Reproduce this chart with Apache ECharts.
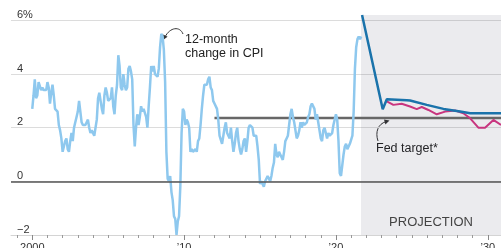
<!DOCTYPE html>
<html>
<head>
<meta charset="utf-8">
<script src="https://cdn.jsdelivr.net/npm/echarts@6.0.0/dist/echarts.min.js"></script>
<style>
  html, body { margin: 0; padding: 0; background: #fff; }
  #chart { width: 501px; height: 248px; }
</style>
</head>
<body>
<div id="chart"></div>
<script>
// 12-month change in CPI, monthly, Jan 2000 - Sep 2021
var cpiStart = 2000;
var cpi = [
  2.7, 3.2, 3.8, 3.1, 3.2, 3.7, 3.7, 3.4, 3.5, 3.4, 3.4, 3.4,
  3.7, 3.5, 2.9, 3.3, 3.6, 3.2, 2.7, 2.7, 2.6, 2.1, 1.9, 1.6,
  1.1, 1.1, 1.5, 1.6, 1.2, 1.1, 1.5, 1.8, 1.5, 2.0, 2.2, 2.4,
  2.6, 3.0, 3.0, 2.2, 2.1, 2.1, 2.1, 2.2, 2.3, 2.0, 1.8, 1.9,
  1.9, 1.7, 1.7, 2.3, 3.1, 3.3, 3.0, 2.7, 2.5, 3.2, 3.5, 3.3,
  3.0, 3.0, 3.1, 3.5, 2.8, 2.5, 3.2, 3.6, 4.7, 4.3, 3.5, 3.4,
  4.0, 3.6, 3.4, 3.5, 4.2, 4.3, 4.1, 3.8, 2.1, 1.3, 2.0, 2.5,
  2.1, 2.4, 2.8, 2.6, 2.7, 2.7, 2.4, 2.0, 2.8, 3.5, 4.3, 4.1,
  4.3, 4.0, 4.0, 3.9, 4.2, 5.0, 5.5, 5.4, 4.9, 3.7, 1.1, 0.1,
  0.0, 0.2, -0.4, -0.7, -1.3, -1.4, -2.0, -1.5, -1.3, -0.2, 1.8, 2.7,
  2.6, 2.1, 2.3, 2.2, 2.0, 1.1, 1.2, 1.1, 1.1, 1.2, 1.1, 1.5,
  1.6, 2.1, 2.7, 3.2, 3.6, 3.6, 3.6, 3.8, 3.9, 3.5, 3.4, 3.0,
  2.9, 2.9, 2.7, 2.3, 1.7, 1.7, 1.4, 1.7, 2.0, 2.2, 1.8, 1.7,
  1.6, 2.0, 1.5, 1.1, 1.4, 1.8, 2.0, 1.5, 1.2, 1.0, 1.2, 1.5,
  1.6, 1.1, 1.5, 2.0, 2.1, 2.1, 2.0, 1.7, 1.7, 1.7, 1.3, 0.8,
  -0.1, 0.0, -0.1, -0.2, 0.0, 0.1, 0.2, 0.2, 0.0, 0.2, 0.5, 0.7,
  1.4, 1.0, 0.9, 1.1, 1.0, 1.0, 0.8, 1.1, 1.5, 1.6, 1.7, 2.1,
  2.5, 2.7, 2.4, 2.2, 1.9, 1.6, 1.7, 1.9, 2.2, 2.0, 2.2, 2.1,
  2.1, 2.2, 2.4, 2.5, 2.8, 2.9, 2.9, 2.7, 2.3, 2.5, 2.2, 1.9,
  1.6, 1.5, 1.9, 2.0, 1.8, 1.6, 1.8, 1.7, 1.7, 1.8, 2.1, 2.3,
  2.5, 2.3, 1.5, 0.3, 0.2, 0.6, 1.0, 1.3, 1.4, 1.2, 1.2, 1.4,
  1.4, 1.7, 2.6, 4.2, 5.0, 5.3, 5.4, 5.3, 5.4
];

// projection (dark blue)
var projYears = [2021.72, 2023.08, 2023.35, 2024.66, 2024.88, 2025.98, 2027.08, 2028.18, 2028.84, 2030.87];
var projValues = [6.2, 2.69, 3.06, 3.02, 3.01, 2.85, 2.70, 2.60, 2.54, 2.54];

// alternative path (magenta)
var altYears = [2023.35, 2023.78, 2024.33, 2024.88, 2025.32, 2025.65, 2026.09, 2026.64, 2027.19, 2027.85, 2028.39, 2028.84, 2029.38, 2029.82, 2030.37, 2030.87];
var altValues = [2.98, 2.85, 2.89, 2.79, 2.69, 2.77, 2.66, 2.50, 2.60, 2.64, 2.54, 2.35, 2.0, 2.0, 2.29, 2.1];

// fed target line
var fedStart = 2012;
var fedValue = 2.36;

var projStart = 2021.65;
var xMin = 1998.6, xMax = 2030.87;
var yearTicks = [];
for (var y = 1999; y <= 2030; y++) yearTicks.push(y);
var decadeTicks = [2000, 2010, 2020, 2030];

var font = 'Liberation Sans, Arial, Helvetica, sans-serif';

var cpiData = cpi.map(function (v, i) { return [cpiStart + i / 12, v]; });
var projData = projYears.map(function (x, i) { return [x, projValues[i]]; });
var altData = altYears.map(function (x, i) { return [x, altValues[i]]; });

var chart = echarts.init(document.getElementById('chart'));
chart.setOption({
  animation: false,
  grid: { left: 11, right: 0, top: 15, bottom: 13, outerBoundsMode: 'none', containLabel: false },
  xAxis: [
    {
      type: 'value', min: xMin, max: xMax,
      axisLine: { onZero: false, lineStyle: { color: '#d4d4d4', width: 1 } },
      axisTick: { customValues: yearTicks, length: 3, lineStyle: { color: '#999' } },
      axisLabel: { show: false },
      splitLine: { show: false }
    },
    {
      type: 'value', min: xMin, max: xMax, position: 'bottom',
      axisLine: { show: false, onZero: false },
      axisTick: { customValues: decadeTicks, length: 5, lineStyle: { color: '#888' } },
      axisLabel: {
        customValues: decadeTicks, margin: 7, color: '#333', fontSize: 11, fontFamily: font,
        formatter: function (v) { return v === 2000 ? '2000' : '\u2019' + String(v).slice(2); }
      },
      splitLine: { show: false }
    }
  ],
  yAxis: {
    type: 'value', min: -2, max: 6.2, interval: 2,
    axisLine: { show: false }, axisTick: { show: false },
    axisLabel: {
      inside: true, margin: 6, align: 'left', verticalAlign: 'bottom',
      padding: 0, color: '#333', fontSize: 11, fontFamily: font,
      showMaxLabel: false,
      formatter: function (v) {
        if (v === 6) return '6%';
        if (v < 0) return '\u2212' + (-v);
        return Math.abs(v % 2) < 1e-9 ? String(v) : '';
      }
    },
    splitLine: { showMaxLine: false, lineStyle: { color: '#dcdcdc', width: 1 } }
  },
  series: [
    {
      type: 'line', data: [], silent: true,
      markArea: {
        silent: true,
        itemStyle: { color: 'rgba(60,60,90,0.1)' },
        label: {
          show: true, position: 'insideBottom', distance: 6,
          color: '#444', fontSize: 13, fontFamily: font
        },
        data: [[{ name: 'PROJECTION', xAxis: projStart }, { xAxis: xMax }]]
      },
      markLine: {
        silent: true, symbol: 'none', label: { show: false },
        lineStyle: { color: '#555', width: 1.5, type: 'solid' },
        data: [{ yAxis: 0 }]
      }
    },
    {
      name: 'Fed target', type: 'line', showSymbol: false, silent: true,
      data: [[fedStart, fedValue], [xMax, fedValue]],
      lineStyle: { color: '#676767', width: 2.5 }
    },
    {
      name: 'CPI', type: 'line', showSymbol: false, silent: true,
      data: cpiData,
      lineStyle: { color: '#8ec8ee', width: 2.5 }
    },
    {
      name: 'Alternative', type: 'line', showSymbol: false, silent: true,
      data: altData,
      lineStyle: { color: '#c8357f', width: 2 }
    },
    {
      name: 'Projection', type: 'line', showSymbol: false, silent: true,
      data: projData,
      lineStyle: { color: '#1a73ab', width: 2.5 }
    }
  ],
  graphic: [
    {
      type: 'text', left: 185, top: 33, silent: true,
      style: { text: '12-month\nchange in CPI', fill: '#222', font: '12.5px ' + font, lineHeight: 13.5 }
    },
    {
      type: 'bezierCurve', silent: true,
      shape: { x1: 183, y1: 34, cpx1: 180, cpy1: 26, cpx2: 170, cpy2: 27, x2: 165, y2: 37 },
      style: { stroke: '#333', lineWidth: 1, fill: null }
    },
    {
      type: 'polygon', silent: true,
      shape: { points: [[163, 40], [167.6, 36.8], [163.2, 34.4]] },
      style: { fill: '#333' }
    },
    {
      type: 'text', left: 376, top: 142, silent: true,
      style: { text: 'Fed target*', fill: '#222', font: '12.5px ' + font }
    },
    {
      type: 'bezierCurve', silent: true,
      shape: { x1: 378, y1: 141, cpx1: 375, cpy1: 132, cpx2: 378, cpy2: 124, x2: 386, y2: 121.6 },
      style: { stroke: '#333', lineWidth: 1, fill: null }
    },
    {
      type: 'polygon', silent: true,
      shape: { points: [[389.5, 120.6], [385.4, 124.4], [384.0, 119.6]] },
      style: { fill: '#333' }
    }
  ]
});
</script>
</body>
</html>
